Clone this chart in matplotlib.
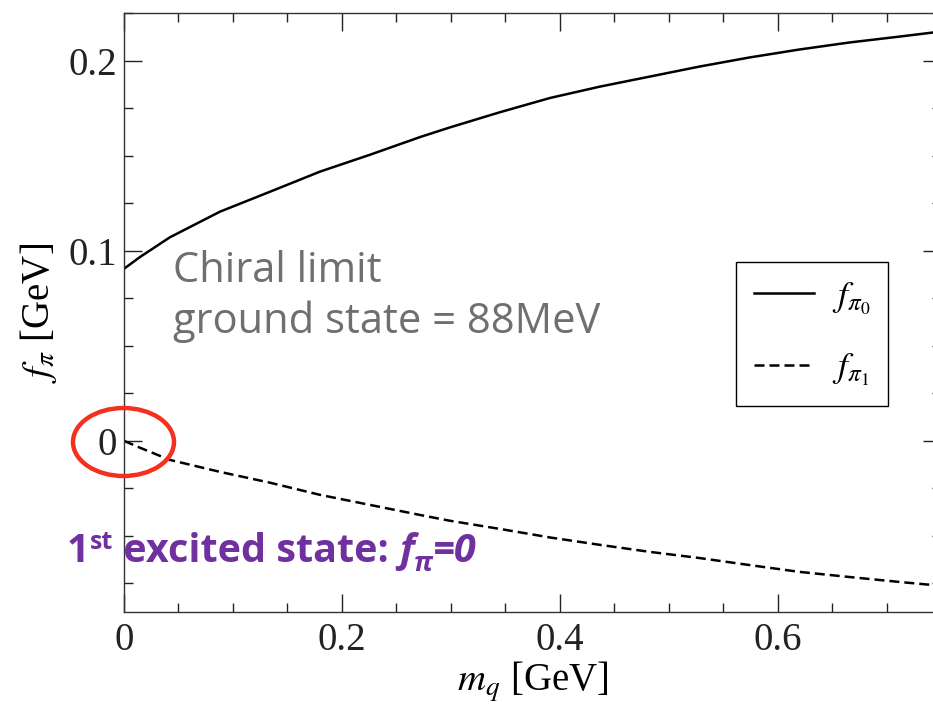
import matplotlib
matplotlib.use("Agg")
import matplotlib.pyplot as plt
from matplotlib.patches import Ellipse
from matplotlib.ticker import MultipleLocator, FuncFormatter
from matplotlib.transforms import offset_copy

# quark mass [GeV]
mq = [0.0, 0.015, 0.042, 0.088, 0.134, 0.180, 0.226, 0.272, 0.299, 0.345, 0.391,
      0.437, 0.483, 0.528, 0.574, 0.620, 0.666, 0.712, 0.742, 0.75]
# ground state decay constant [GeV]
f_pi0 = [0.0905, 0.0968, 0.1070, 0.1205, 0.1310, 0.1416, 0.1505, 0.1598, 0.1648, 0.1728,
         0.1803, 0.1863, 0.1916, 0.1968, 0.2016, 0.2058, 0.2095, 0.2126, 0.2147, 0.2152]
# first excited state decay constant [GeV]
f_pi1 = [0.0, -0.0037, -0.0100, -0.0163, -0.0220, -0.0284, -0.0337, -0.0390, -0.0420, -0.0463,
         -0.0508, -0.0547, -0.0584, -0.0616, -0.0653, -0.0689, -0.0716, -0.0742, -0.0758, -0.0762]

plt.rcParams["mathtext.fontset"] = "stix"
plt.rcParams["font.family"] = ["Liberation Serif", "DejaVu Serif"]

fig = plt.figure(figsize=(9.33, 7.09), dpi=100)
W, H = 933, 709
ax = fig.add_axes([124 / W, 1 - 612 / H, 817 / W, 599 / H])

ax.plot(mq, f_pi0, color="black", lw=1.8, label=r"$f_{\pi_{\mathit{0}}}$")
ax.plot(mq, f_pi1, color="black", lw=1.8, dashes=(4, 2), label=r"$f_{\pi_{\mathit{1}}}$")

ax.set_xlim(0, 0.75)
ax.set_ylim(-0.09, 0.225)
ax.xaxis.set_major_locator(MultipleLocator(0.2))
ax.xaxis.set_minor_locator(MultipleLocator(0.05))
ax.yaxis.set_major_locator(MultipleLocator(0.1))
ax.yaxis.set_minor_locator(MultipleLocator(0.025))
fmt = FuncFormatter(lambda v, p: f"{v:g}" if abs(v) > 1e-9 else "0")
ax.xaxis.set_major_formatter(fmt)
ax.yaxis.set_major_formatter(fmt)
ax.tick_params(which="both", direction="in", top=True, right=True, width=1.0, colors="#222222")
ax.tick_params(which="major", length=13, labelsize=28)
ax.tick_params(axis="x", which="major", pad=7)
ax.tick_params(axis="y", which="major", pad=5)
ax.tick_params(which="minor", length=6.5)
for s in ax.spines.values():
    s.set_linewidth(1.0)
    s.set_color("#333333")

ax.set_xlabel(r"$m_q$ [GeV]", fontsize=28)
ax.set_ylabel(r"$f_\pi$ [GeV]", fontsize=28)
ax.xaxis.set_label_coords(0.5, -0.08)
ax.yaxis.set_label_coords(-0.08, 0.5)

leg = ax.legend(loc="upper left", bbox_to_anchor=(0.749, 0.584), borderaxespad=0,
                fontsize=26, handlelength=1.65, handletextpad=0.5, labelspacing=1.0,
                fancybox=False, framealpha=1, borderpad=0.5)
leg.get_frame().set_edgecolor("black")
leg.get_frame().set_linewidth(1.0)

# red ellipse round the origin
ell = Ellipse((123.5 / W, 1 - 442 / H), 101 / W, 68 / H, transform=fig.transFigure,
              fill=False, edgecolor="#F4301E", lw=3.2, clip_on=False)
fig.add_artist(ell)

# grey annotation
gray = "#6f6f6f"
sans = ["Open Sans", "DejaVu Sans"]
fig.text(173 / W, 1 - 282 / H, "Chiral limit", fontsize=30, color=gray,
         family=sans, va="baseline")
fig.text(173 / W, 1 - 333 / H, "ground state = 88MeV", fontsize=30, color=gray,
         family=sans, va="baseline")

# purple annotation built piece by piece
purple = "#7030A0"
pieces = [
    ("1", 28.5, "bold", "normal", 0),
    ("st", 18, "bold", "normal", 13),
    (" excited state: ", 28.5, "bold", "normal", 0),
    ("f", 28.5, "bold", "italic", 0),
    ("\u03c0", 19, "bold", "italic", -9),
    ("=0", 28.5, "bold", "italic", 0),
]
fig.canvas.draw()
renderer = fig.canvas.get_renderer()
x0, y0 = 67 / W, 1 - 562 / H
xoff = 0.0
for s, size, weight, style, dy in pieces:
    tr = offset_copy(fig.transFigure, fig=fig, x=xoff, y=dy, units="dots")
    t = fig.text(x0, y0, s, fontsize=size, color=purple, fontweight=weight,
                 fontstyle=style, family=sans, va="baseline", transform=tr)
    t.draw(renderer)
    xoff += t.get_window_extent(renderer).width

fig.savefig("out.png", dpi=100)
